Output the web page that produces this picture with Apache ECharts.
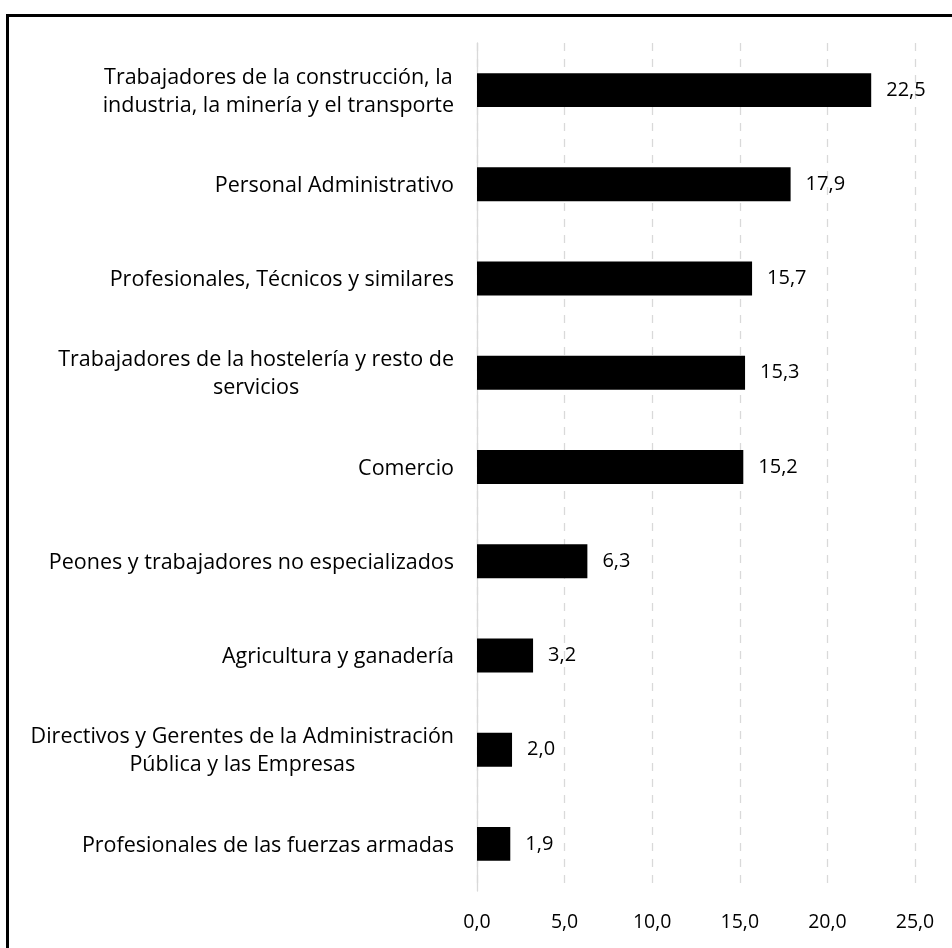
<!DOCTYPE html>
<html>
<head>
<meta charset="utf-8">
<script src="https://cdn.jsdelivr.net/npm/echarts@6/dist/echarts.min.js"></script>
<style>
html,body{margin:0;padding:0;background:#fff;}
#c{width:952px;height:948px;}
</style>
</head>
<body>
<div id="c"></div>
<script>
// Categories, top to bottom
const categories = [
  "Trabajadores de la construcción, la\nindustria, la minería y el transporte",
  "Personal Administrativo",
  "Profesionales, Técnicos y similares",
  "Trabajadores de la hostelería y resto de\nservicios",
  "Comercio",
  "Peones y trabajadores no especializados",
  "Agricultura y ganadería",
  "Directivos y Gerentes de la Administración\nPública y las Empresas",
  "Profesionales de las fuerzas armadas"
];
const values = [22.5, 17.9, 15.7, 15.3, 15.2, 6.3, 3.2, 2.0, 1.9];
const xTicks = [0, 5, 10, 15, 20, 25];

const FONT = "'Open Sans', 'Noto Sans', sans-serif";
const fmt = v => v.toFixed(1).replace('.', ',');

const chart = echarts.init(document.getElementById('c'), null, {renderer: 'canvas'});
const richStyle = {
  c: {align: 'center', fontFamily: FONT, fontSize: 21.5, color: '#000', lineHeight: 28, padding: [3, 0, 0, 0]},
  r: {align: 'right', fontFamily: FONT, fontSize: 21.5, color: '#000', lineHeight: 28, padding: [3, 0, 0, 0]}
};
chart.setOption({
  animation: false,
  backgroundColor: '#fff',
  graphic: [{
    type: 'rect',
    shape: {x: 7.5, y: 15.5, width: 1000, height: 1000},
    style: {fill: 'none', stroke: '#000', lineWidth: 3},
    silent: true
  }],
  grid: {left: 477, right: 37, top: 43, bottom: 57, containLabel: false},
  xAxis: {
    type: 'value',
    min: xTicks[0],
    max: xTicks[xTicks.length - 1],
    interval: 5,
    axisLine: {show: false},
    axisTick: {show: false},
    splitLine: {show: true, lineStyle: {color: '#d9d9d9', type: [8, 8], width: 1.3}},
    axisLabel: {
      formatter: v => fmt(v),
      fontFamily: FONT, fontSize: 19.5, color: '#000', margin: 21
    }
  },
  yAxis: {
    type: 'category',
    inverse: true,
    data: categories,
    axisLine: {show: true, lineStyle: {color: '#d9d9d9', width: 1.3}},
    axisTick: {show: false},
    splitLine: {show: false},
    axisLabel: {
      margin: 23,
      align: 'right',
      formatter: function (v) {
        const lines = v.split('\n');
        const a = lines.length > 1 ? 'c' : 'r';
        return lines.map(s => '{' + a + '|' + s + '}').join('\n');
      },
      rich: richStyle
    }
  },
  series: [{
    type: 'bar',
    data: values,
    barWidth: '36%',
    itemStyle: {color: '#000'},
    label: {
      show: true,
      position: 'right',
      distance: 15,
      formatter: p => fmt(p.value),
      fontFamily: FONT, fontSize: 20, color: '#000'
    }
  }]
});
</script>
</body>
</html>
